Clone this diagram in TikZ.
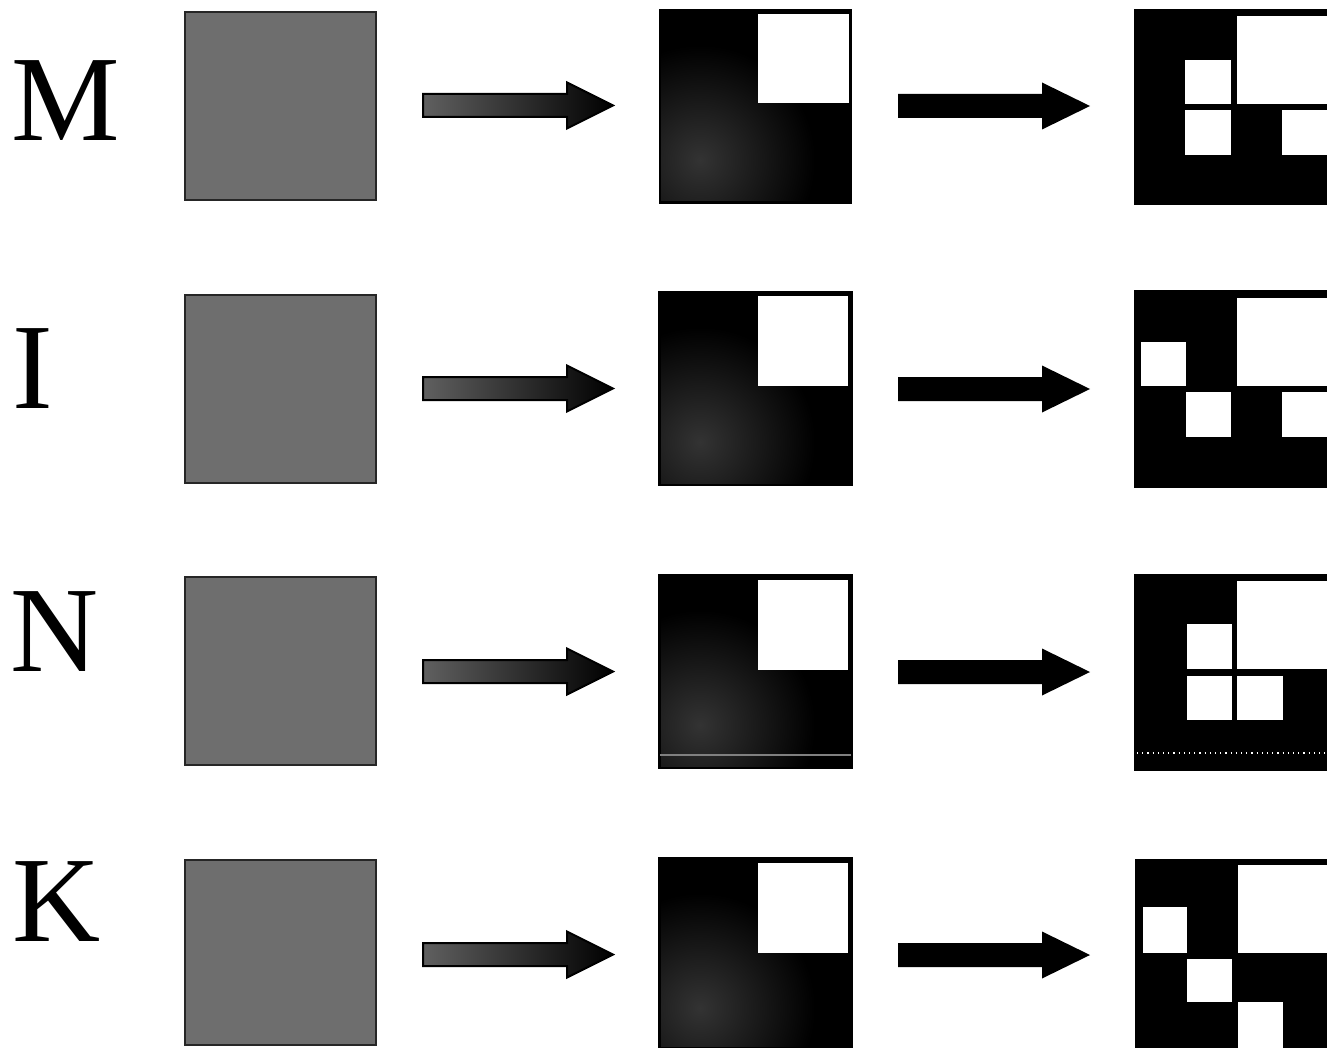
\documentclass[tikz,border=0pt]{standalone}
\usepackage{fontspec}
\setmainfont{Liberation Serif}
\usetikzlibrary{fit}
\definecolor{gsq}{gray}{0.43}
\definecolor{speck}{gray}{0.2}
\begin{document}
\begin{tikzpicture}[x=0.5pt,y=-0.5pt,
  letter/.style={anchor=base west, inner sep=0pt, font=\fontsize{61}{62}\selectfont},
  graysq/.style={fill=gsq, draw=black!85, line width=1.2pt, inner sep=0pt},
  blacksq/.style={fill=black, draw=black, line width=0.8pt, inner sep=0pt},
  whitebox/.style={fill=white},
  arrowA/.style={left color=gray!75!black, right color=black, draw=black, line width=1pt},
  arrowB/.style={fill=black}]
\useasboundingbox (0,0) rectangle (1327,1048);

% letters
\node[letter] (lM) at (11,141) {M};
\node[letter] (lI) at (12,408) {I};
\node[letter] (lN) at (10,671) {N};
\node[letter] (lK) at (12,941) {K};

% column 1 gray squares
\node[graysq, fit={(185,12) (376,200)}] (g1) {};
\node[graysq, fit={(185,295) (376,483)}] (g2) {};
\node[graysq, fit={(185,577) (376,765)}] (g3) {};
\node[graysq, fit={(185,860) (376,1045)}] (g4) {};

% first arrows
\foreach \c in {105.5,388.5,671.5,954.5}{
  \path[arrowA] (423,\c-11.5) -- (567,\c-11.5) -- (567,\c-23) -- (613,\c)
     -- (567,\c+23) -- (567,\c+11.5) -- (423,\c+11.5) -- cycle;
}

% column 2 squares
\node[blacksq, fit={(660,10) (851,203)}] (b1) {};
\node[blacksq, fit={(659,292) (852,485)}] (b2) {};
\node[blacksq, fit={(659,575) (852,768)}] (b3) {};
\node[blacksq, fit={(659,858) (852,1048)}] (b4) {};
\foreach \t/\b in {10/203,292/485,575/768,858/1048}{
  \begin{scope}
    \clip (661,\t+2) rectangle (850,\b-2);
    \shade[inner color=speck, outer color=black] (700,\t+150) circle (115);
  \end{scope}
}
\fill[whitebox] (758,14) rectangle (849,103);
\fill[whitebox] (758,296) rectangle (848,386);
\fill[whitebox] (758,580) rectangle (848,670);
\fill[whitebox] (758,863) rectangle (848,953);
\draw[gray, line width=0.8pt] (660,755) -- (851,755);

% second arrows
\foreach \c in {106,389,672,955}{
  \fill[black] (898,\c-12) -- (1042,\c-12) -- (1042,\c-23.5) -- (1090,\c)
     -- (1042,\c+23.5) -- (1042,\c+12) -- (898,\c+12) -- cycle;
}

% column 3 squares
\node[blacksq, fit={(1135,10) (1327,204)}] (c1) {};
\node[blacksq, fit={(1135,291) (1327,487)}] (c2) {};
\node[blacksq, fit={(1135,575) (1327,770)}] (c3) {};
\node[blacksq, fit={(1136,860) (1327,1048)}] (c4) {};

% row 1 pattern
\fill[whitebox] (1237,16) rectangle (1327,104);
\fill[whitebox] (1185,60) rectangle (1231,104);
\fill[whitebox] (1185,110) rectangle (1231,155);
\fill[whitebox] (1282,110) rectangle (1327,155);
% row 2 pattern
\fill[whitebox] (1237,298) rectangle (1327,386);
\fill[whitebox] (1141,342) rectangle (1186,386);
\fill[whitebox] (1186,392) rectangle (1231,437);
\fill[whitebox] (1282,392) rectangle (1327,437);
% row 3 pattern
\fill[whitebox] (1237,581) rectangle (1327,669);
\fill[whitebox] (1187,624) rectangle (1232,669);
\fill[whitebox] (1187,676) rectangle (1232,720);
\fill[whitebox] (1237,676) rectangle (1283,720);
\draw[white, dotted, line width=0.6pt] (1137,753) -- (1327,753);
% row 4 pattern
\fill[whitebox] (1238,865) rectangle (1327,953);
\fill[whitebox] (1143,907) rectangle (1187,953);
\fill[whitebox] (1187,959) rectangle (1232,1002);
\fill[whitebox] (1238,1002) rectangle (1283,1048);
\end{tikzpicture}
\end{document}
